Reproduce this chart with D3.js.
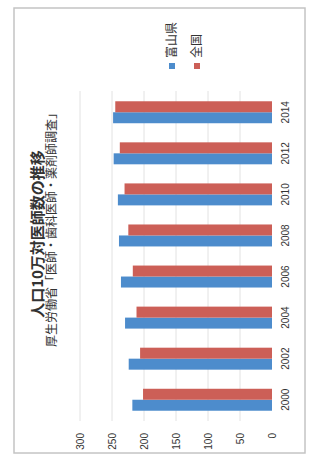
<!DOCTYPE html>
<html>
<head>
<meta charset="utf-8">
<script src="https://cdn.jsdelivr.net/npm/d3@7"></script>
<style>
  body { margin: 0; background: #fff; }
  text { font-family: "Noto Sans CJK JP", "Noto Sans", sans-serif; fill: #333; }
</style>
</head>
<body>
<svg id="chart"></svg>
<script>
// DATA
const years = ["2000", "2002", "2004", "2006", "2008", "2010", "2012", "2014"];
const toyama = [218.2, 223.9, 229.6, 236.0, 239.1, 240.8, 247.4, 248.3];
const national = [201.5, 206.1, 211.7, 217.5, 224.5, 230.4, 237.8, 244.9];
const seriesNames = ["富山県", "全国"];
const seriesColors = ["#4d8ccc", "#cc5f57"];
const valueTicks = [0, 50, 100, 150, 200, 250, 300];
const title = "人口10万対医師数の推移";
const subtitle = "厚生労働省「医師・歯科医師・薬剤師調査」";

// DIMENSIONS
const W = 313, H = 464;

const svg = d3.select("#chart").attr("width", W).attr("height", H);

// photo frame
svg.append("rect")
  .attr("x", 14).attr("y", 8)
  .attr("width", 291).attr("height", 445)
  .attr("fill", "#fff")
  .attr("stroke", "#c4c4c4")
  .attr("stroke-width", 1.5);

// the chart is printed sideways: draw it upright in a 464x313 frame and turn it
const g = svg.append("g").attr("transform", `translate(0,${H}) rotate(-90)`);

const x = d3.scaleBand().domain(years).range([43, 373])
  .paddingInner(0.465).paddingOuter(0.25);
const xSub = d3.scaleBand().domain([0, 1]).range([0, x.bandwidth()]);
const y = d3.scaleLinear().domain([0, 300]).range([272, 80]);

// gridlines
g.append("g")
  .selectAll("line")
  .data(valueTicks.slice(1))
  .join("line")
  .attr("x1", 43).attr("x2", 373)
  .attr("y1", d => y(d)).attr("y2", d => y(d))
  .attr("stroke", "#e2e2e2");

// bars
const series = [toyama, national];
const groups = g.append("g")
  .selectAll("g")
  .data(years)
  .join("g")
  .attr("transform", d => `translate(${x(d)},0)`);

groups.selectAll("rect")
  .data((d, i) => series.map((s, k) => ({ k, v: s[i] })))
  .join("rect")
  .attr("x", d => xSub(d.k))
  .attr("width", xSub.bandwidth())
  .attr("y", d => y(d.v))
  .attr("height", d => y(0) - y(d.v))
  .attr("fill", d => seriesColors[d.k]);

// value axis
const yAxis = g.append("g")
  .attr("transform", "translate(31,0)")
  .call(d3.axisLeft(y).tickValues(valueTicks).tickSize(0).tickPadding(0));
yAxis.select(".domain").remove();
yAxis.selectAll("text")
  .style("font-size", "10px")
  .style("font-family", "'Liberation Sans', Arial, sans-serif")
  .attr("fill", "#333");

// category axis
const xAxis = g.append("g")
  .attr("transform", "translate(0,282)")
  .call(d3.axisBottom(x).tickSize(0).tickPadding(0));
xAxis.select(".domain").remove();
xAxis.selectAll("text")
  .style("font-size", "10px")
  .style("font-family", "'Liberation Sans', Arial, sans-serif")
  .attr("fill", "#333");

// titles
g.append("text")
  .attr("x", 230).attr("y", 43)
  .attr("text-anchor", "middle")
  .style("font-size", "15px")
  .style("font-weight", "bold")
  .text(title);

g.append("text")
  .attr("x", 237).attr("y", 55.5)
  .attr("text-anchor", "middle")
  .style("font-size", "12px")
  .text(subtitle);

// legend
const legend = g.append("g")
  .selectAll("g")
  .data(seriesNames)
  .join("g")
  .attr("transform", (d, i) => `translate(395,${[172, 197][i]})`);

legend.append("rect")
  .attr("x", 0).attr("y", -3)
  .attr("width", 6).attr("height", 6)
  .attr("fill", (d, i) => seriesColors[i]);

legend.append("text")
  .attr("x", 11).attr("y", 4.3)
  .style("font-size", "12px")
  .text(d => d);
</script>
</body>
</html>
